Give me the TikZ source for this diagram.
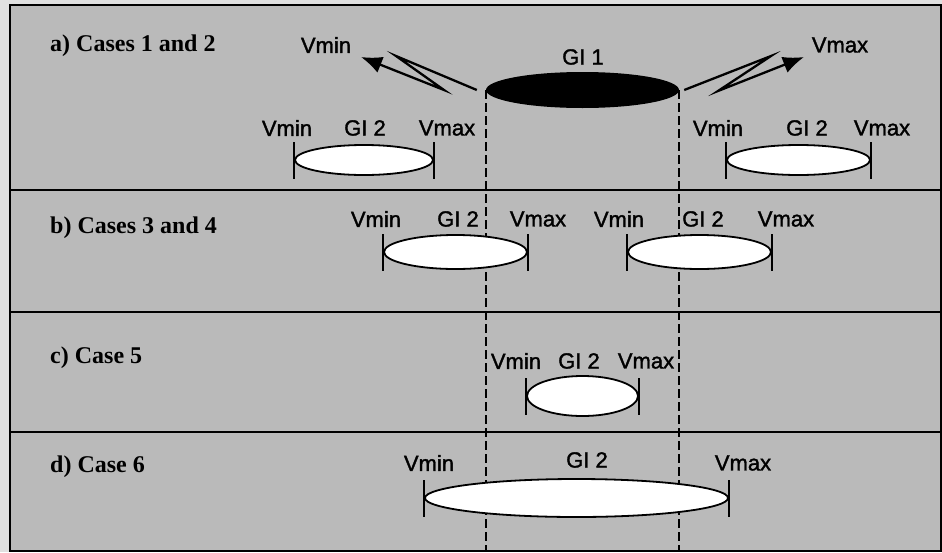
\documentclass[tikz,border=0pt]{standalone}
\usepackage{fontspec}
\setmainfont{Liberation Serif}
\newfontfamily\vfont{Liberation Sans}[FakeBold=1.5]
\usetikzlibrary{shapes.geometric,arrows.meta}

\tikzset{
  gione/.style={ellipse, fill=black, inner sep=0pt, minimum width=193pt, minimum height=36pt},
  gitwo/.style={ellipse, draw, fill=white, line width=1.8pt, inner sep=0pt},
  vlab/.style={font=\vfont\fontsize{22}{22}\selectfont, inner sep=0pt},
  caselab/.style={font=\bfseries\fontsize{24}{24}\selectfont, anchor=west, inner sep=0pt},
  endbar/.style={line width=1.8pt},
  bound/.style={line width=2pt, dash pattern=on 9pt off 4pt},
  zig/.style={line width=2.3pt, -{Latex[length=21pt,width=17pt]}},
  frameline/.style={line width=2pt}
}

\begin{document}
\begin{tikzpicture}[x=1pt,y=-1pt]
\useasboundingbox (0,0) rectangle (942,552);
\fill[black!12] (0,0) rectangle (942,552);
\fill[black!27] (10,5) rectangle (941,551);
\draw[frameline] (10,5) rectangle (941,551);
\draw[frameline] (10,190) -- (941,190);
\draw[frameline] (10,312) -- (941,312);
\draw[frameline] (10,432) -- (941,432);
\coordinate (bot) at (0,551);

% row titles
\node[caselab] (ca) at (50,46) {a) Cases 1 and 2};
\node[caselab] (cb) at (50,228) {b) Cases 3 and 4};
\node[caselab] (cc) at (50,358) {c) Case 5};
\node[caselab] (cd) at (50,467) {d) Case 6};

% GI 1 and its bounds
\node[gione] (g1) at (582.5,90) {};
\node[vlab] (g1lab) at (583,57) {GI 1};
\draw[bound] (g1.west) -- (g1.west |- bot);
\draw[bound] (g1.east) -- (g1.east |- bot);

% arrows
\coordinate (lz1) at (396,56);
\coordinate (lz2) at (444,90);
\coordinate (ltip) at (361,57);
\coordinate (rz1) at (771,56);
\coordinate (rz2) at (718,91);
\coordinate (rtip) at (804,57);
\draw[zig] ([xshift=-9pt]g1.west) -- (lz1) -- (lz2) -- (ltip);
\draw[zig] ([xshift=5pt]g1.east) -- (rz1) -- (rz2) -- (rtip);
\node[vlab] (lmin) at (326,45) {Vmin};
\node[vlab] (rmax) at (840,45) {Vmax};

% a) GI 2 outside
\node[gitwo, minimum width=138pt, minimum height=30pt] (a1) at (364,160) {};
\node[gitwo, minimum width=143pt, minimum height=30pt] (a2) at (798.5,160) {};
\node[vlab] (a1min) at (287,128) {Vmin};
\node[vlab] (a1gi) at (365,128) {GI 2};
\node[vlab] (a1max) at (447,128) {Vmax};
\node[vlab] (a2min) at (718,128) {Vmin};
\node[vlab] (a2gi) at (807,128) {GI 2};
\node[vlab] (a2max) at (882,128) {Vmax};

% b) GI 2 overlapping
\node[gitwo, minimum width=143pt, minimum height=34pt] (b1) at (455.5,252) {};
\node[gitwo, minimum width=143pt, minimum height=34pt] (b2) at (699.5,252) {};
\node[vlab] (b1min) at (376,219) {Vmin};
\node[vlab] (b1gi) at (458,219) {GI 2};
\node[vlab] (b1max) at (538,219) {Vmax};
\node[vlab] (b2min) at (619,219) {Vmin};
\node[vlab] (b2gi) at (703,219) {GI 2};
\node[vlab] (b2max) at (786,219) {Vmax};

% c) GI 2 inside
\node[gitwo, minimum width=111pt, minimum height=40pt] (c1) at (582.5,396) {};
\node[vlab] (c1min) at (516,361) {Vmin};
\node[vlab] (c1gi) at (579,361) {GI 2};
\node[vlab] (c1max) at (646,361) {Vmax};

% d) GI 2 covering
\node[gitwo, minimum width=303pt, minimum height=38pt] (d1) at (576.5,498) {};
\node[vlab] (d1min) at (429,463) {Vmin};
\node[vlab] (d1gi) at (587,460) {GI 2};
\node[vlab] (d1max) at (743,463) {Vmax};

% end bars
\foreach \e in {a1,a2,b1,b2,c1,d1}{
  \draw[endbar] ([yshift=18pt]\e.west) -- ([yshift=-19pt]\e.west);
  \draw[endbar] ([yshift=18pt]\e.east) -- ([yshift=-19pt]\e.east);
}
\end{tikzpicture}
\end{document}
